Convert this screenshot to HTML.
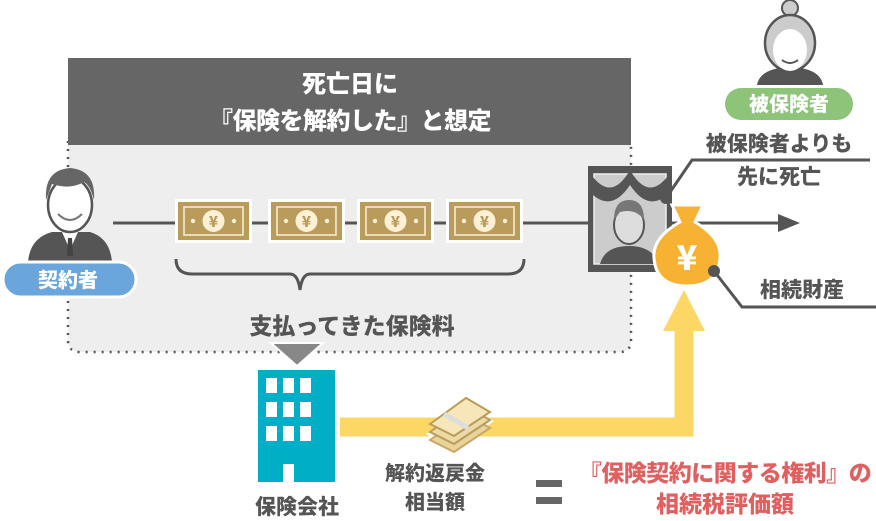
<!DOCTYPE html>
<html><head><meta charset="utf-8"><style>
html,body{margin:0;padding:0;background:#fff;width:876px;height:521px;overflow:hidden}
svg{display:block}
text{font-family:"Noto Sans CJK JP","Liberation Sans",sans-serif;font-weight:900}
</style></head><body>
<svg width="876" height="521" viewBox="0 0 876 521" xmlns="http://www.w3.org/2000/svg">
<path d="M68,141 V340 Q68,352 80,352 H620 Q631,352 631,340 V141 Z" fill="#eeeeee"/>
<path d="M68,141 V340 Q68,352 80,352 H620 Q631,352 631,340 V141" fill="none" stroke="#555" stroke-width="2.5" stroke-dasharray="2,6"/>
<rect x="68" y="58" width="563" height="87" fill="#666"/>
<text x="350" y="92" font-size="24" fill="#fff" text-anchor="middle">死亡日に</text>
<text x="350" y="129" font-size="24" fill="#fff" text-anchor="middle" letter-spacing="-0.5">『保険を解約した』と想定</text>

<line x1="113" y1="223" x2="780" y2="223" stroke="#555" stroke-width="3"/>
<polygon points="778,214 800,223 778,232" fill="#555"/>

<g id="bill">
<rect x="175" y="199" width="77" height="44" fill="#fff"/>
<rect x="178" y="202" width="71" height="38" fill="#b99b5c"/>
<rect x="184" y="207" width="59" height="28" fill="none" stroke="#fdf0d5" stroke-width="1.5"/>
<circle cx="213.5" cy="221" r="11" fill="#fdf0d5"/>
<text x="213.5" y="227" font-size="15" fill="#b99b5c" text-anchor="middle">¥</text>
<circle cx="193" cy="221" r="2.2" fill="#fdf0d5"/><circle cx="234" cy="221" r="2.2" fill="#fdf0d5"/>
</g>
<use href="#bill" x="93"/><use href="#bill" x="182"/><use href="#bill" x="271"/>

<path d="M176,259 Q176,274 192,274 H290 Q298,274 300,290 Q302,274 310,274 H508 Q524,274 524,259" fill="none" stroke="#555" stroke-width="3"/>
<text x="352" y="334" font-size="23" fill="#555" text-anchor="middle">支払ってきた保険料</text>
<polygon points="271,343 323,343 297,366" fill="#888" stroke="#fff" stroke-width="2"/>

<g>
<path d="M28,262 Q30,238 52,232 L90,232 Q110,238 112,262 Z" fill="#555"/>
<path d="M62,232 L70,250 L78,232 Z" fill="#fff"/><path d="M68,238 h4 l1,18 h-6 z" fill="#444"/>
<ellipse cx="70" cy="205" rx="22" ry="27" fill="#fff" stroke="#555" stroke-width="2.5"/>
<path d="M46,200 Q44,170 70,168 Q96,170 94,200 Q90,185 84,182 Q70,190 52,184 Z" fill="#666"/>
<path d="M58,214 Q70,226 82,214" fill="none" stroke="#777" stroke-width="2"/>
</g>
<rect x="3" y="262" width="133" height="35" rx="17.5" fill="#6aa6dc" stroke="#fff" stroke-width="3"/>
<text x="68" y="287" font-size="20" fill="#fff" text-anchor="middle">契約者</text>

<rect x="588" y="166" width="84" height="106" fill="#555"/>
<rect x="594" y="174" width="72" height="90" fill="#ccc" stroke="#eee" stroke-width="1.5"/>
<path d="M588,170 Q610,205 630,170 Q650,205 672,170 V190 Q650,215 630,185 Q610,215 588,190 Z" fill="#555"/>
<ellipse cx="629" cy="225" rx="15" ry="19" fill="#ddd" stroke="#555" stroke-width="2"/>
<path d="M614,220 Q614,200 629,200 Q644,200 644,220 Q636,208 620,212 Z" fill="#777"/>
<path d="M600,264 Q605,246 629,246 Q653,246 658,264 Z" fill="#555"/>
<polyline points="666,198 692,160 870,160" fill="none" stroke="#555" stroke-width="3"/>
<circle cx="666" cy="198" r="6" fill="#555"/>
<text x="779" y="151" font-size="21" fill="#555" text-anchor="middle">被保険者よりも</text>
<text x="779" y="184" font-size="21" fill="#555" text-anchor="middle">先に死亡</text>
<path d="M672,205 L703,205 L695,222 Q722,238 720,258 Q718,286 687,286 Q656,286 654,258 Q652,238 680,222 Z" fill="#f7b233" stroke="#fff" stroke-width="3"/>
<text x="687" y="270" font-size="34" fill="#fff" text-anchor="middle">¥</text>
<polyline points="714,271 742,307 876,307" fill="none" stroke="#555" stroke-width="3"/>
<circle cx="714" cy="271" r="6" fill="#555"/>
<text x="802" y="297" font-size="21" fill="#555" text-anchor="middle">相続財産</text>

<g>
<path d="M757,85 Q760,68 790,67 Q820,68 823,85 Z" fill="#555"/>
<circle cx="790" cy="8" r="8" fill="#ccc" stroke="#555" stroke-width="2"/>
<ellipse cx="790" cy="43" rx="25" ry="28" fill="#ccc" stroke="#555" stroke-width="2.5"/>
<ellipse cx="790" cy="50" rx="17" ry="21" fill="#fff"/>
<path d="M782,60 Q790,66 798,60" fill="none" stroke="#555" stroke-width="2"/>
</g>
<rect x="725" y="88" width="128" height="32" rx="16" fill="#8dc47a"/>
<text x="789" y="111" font-size="20" fill="#fff" text-anchor="middle">被保険者</text>

<path d="M340,427 H684 V325" fill="none" stroke="#fdd766" stroke-width="19"/>
<polygon points="663,331 705,331 684,290" fill="#fdd766"/>

<rect x="258" y="370" width="77" height="112" fill="#00aec6"/>
<g fill="#fff">
<rect x="266" y="378" width="11" height="15"/><rect x="283" y="378" width="11" height="15"/><rect x="300" y="378" width="11" height="15"/>
<rect x="266" y="402" width="11" height="15"/><rect x="283" y="402" width="11" height="15"/><rect x="300" y="402" width="11" height="15"/>
<rect x="266" y="426" width="11" height="15"/><rect x="283" y="426" width="11" height="15"/><rect x="300" y="426" width="11" height="15"/>
<rect x="283" y="464" width="11" height="18"/>
</g>
<text x="297" y="514" font-size="21" fill="#555" text-anchor="middle">保険会社</text>

<g>
<polygon points="426,434 466,405 494,421 454,450" fill="#fff"/>
<polygon points="430,440 466,414 490,428 454,452" fill="#e8d39a" stroke="#c8a865" stroke-width="2"/>
<polygon points="430,432 466,406 490,420 454,444" fill="#ecd9a5" stroke="#b99b5c" stroke-width="2"/>
<polygon points="430,424 466,398 490,412 454,436" fill="#f6e6b8" stroke="#b99b5c" stroke-width="2"/>
<line x1="444" y1="414" x2="468" y2="428" stroke="#ddd" stroke-width="5"/>
</g>
<text x="435" y="480" font-size="20" fill="#555" text-anchor="middle">解約返戻金</text>
<text x="435" y="509" font-size="20" fill="#555" text-anchor="middle">相当額</text>

<rect x="536" y="480" width="26" height="7" fill="#666"/>
<rect x="536" y="497" width="26" height="7" fill="#666"/>
<text x="725" y="481" font-size="23" fill="#e06060" text-anchor="middle" letter-spacing="-0.5">『保険契約に関する権利』の</text>
<text x="725" y="512" font-size="23" fill="#e06060" text-anchor="middle">相続税評価額</text>
</svg>
</body></html>
